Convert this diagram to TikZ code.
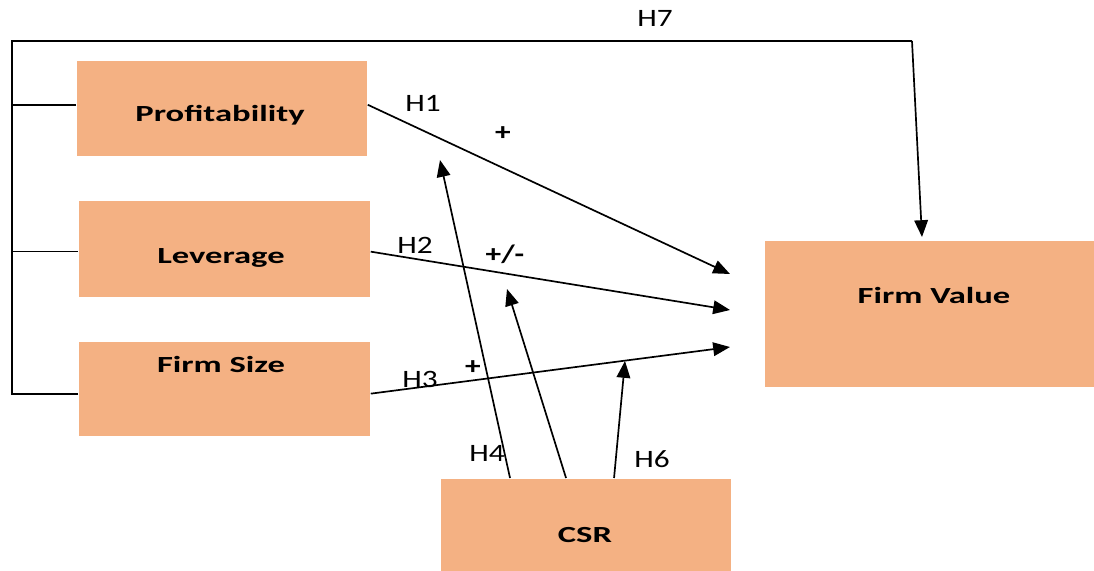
\documentclass[tikz,border=0pt]{standalone}
\usepackage{fontspec}
\setmainfont{Carlito}
\newfontfamily\boxfont[FakeStretch=1.5]{Carlito}
\newfontfamily\hypfont[FakeStretch=1.25]{Carlito}
\usetikzlibrary{arrows.meta}
\usetikzlibrary{positioning}
\definecolor{boxorange}{RGB}{244,177,131}
\tikzset{my_diagram/.style={x=0.025cm,y=-0.025cm,line width=1.2pt}}
\tikzset{my_box/.style={rectangle, fill=boxorange, inner sep=0pt, anchor=north west}}
\tikzset{my_box_text/.style={font=\boxfont\bfseries\fontsize{16.4}{18}\selectfont, inner sep=0pt, anchor=base}}
\tikzset{my_hyp/.style={font=\hypfont\fontsize{17.8}{20}\selectfont, inner sep=0pt, anchor=base}}
\tikzset{my_sign/.style={font=\hypfont\bfseries\fontsize{17.8}{20}\selectfont, inner sep=0pt, anchor=base}}
\tikzset{my_arrow/.style={-{Triangle[length=0.42cm,width=0.34cm]}}}

\begin{document}
\begin{tikzpicture}[my_diagram]
    \useasboundingbox (0,0) rectangle (1094,571);
    %boxes
    \node[my_box, minimum width=7.25cm, minimum height=2.375cm] (prof) at (76,60) {};
    \node[my_box, minimum width=7.275cm, minimum height=2.4cm] (lev) at (78,200) {};
    \node[my_box, minimum width=7.275cm, minimum height=2.35cm] (fsize) at (78,341) {};
    \node[my_box, minimum width=8.25cm, minimum height=3.65cm] (fval) at (764,240) {};
    \node[my_box, minimum width=7.25cm, minimum height=2.325cm] (csr) at (440,478) {};

    \node[my_box_text] (prof_text) at (220,122) {Profitability};
    \node[my_box_text] (lev_text) at (221,264) {Leverage};
    \node[my_box_text] (fsize_text) at (221,372) {Firm Size};
    \node[my_box_text] (fval_text) at (934,304) {Firm Value};
    \node[my_box_text] (csr_text) at (585,542) {CSR};

    %H7 bracket
    \coordinate (corner_tl) at (12,41);
    \coordinate (corner_tr) at (912,41);
    \coordinate (h7_end) at (922,237);
    \draw ([yshift=-0.12cm]fsize.west) -| (corner_tl) -- (corner_tr);
    \draw ([yshift=0.09cm]prof.west) -- ([yshift=0.09cm]prof.west -| corner_tl);
    \draw ([yshift=-0.07cm]lev.west) -- ([yshift=-0.07cm]lev.west -| corner_tl);
    \draw[my_arrow] (corner_tr) -- (h7_end);

    %direct effects
    \coordinate (h1_end) at (730,274);
    \coordinate (h2_end) at (730,310);
    \coordinate (h3_end) at (730,347);
    \draw[my_arrow] ([yshift=0.09cm]prof.east) -- (h1_end);
    \draw[my_arrow] ([yshift=-0.07cm]lev.east) -- (h2_end);
    \draw[my_arrow] ([yshift=-0.12cm]fsize.east) -- (h3_end);

    %moderation
    \coordinate (h4_end) at (440,160);
    \coordinate (h5_end) at (507,289);
    \coordinate (h6_end) at (625,361);
    \draw[my_arrow] ([xshift=1.75cm]csr.north west) -- (h4_end);
    \draw[my_arrow] ([xshift=3.15cm]csr.north west) -- (h5_end);
    \draw[my_arrow] ([xshift=4.35cm]csr.north west) -- (h6_end);

    %labels
    \node[my_hyp] (h7) at (655,27) {H7};
    \node[my_hyp] (h1) at (423,112) {H1};
    \node[my_hyp] (h2) at (415,254) {H2};
    \node[my_hyp] (h3) at (420,387) {H3};
    \node[my_hyp] (h4) at (487,461) {H4};
    \node[my_hyp] (h6) at (652,467) {H6};
    \node[my_sign] (h1_sign) at (503,141) {+};
    \node[my_sign] (h2_sign) at (505,263) {+/-};
    \node[my_sign] (h3_sign) at (473,374) {+};
\end{tikzpicture}
\end{document}
